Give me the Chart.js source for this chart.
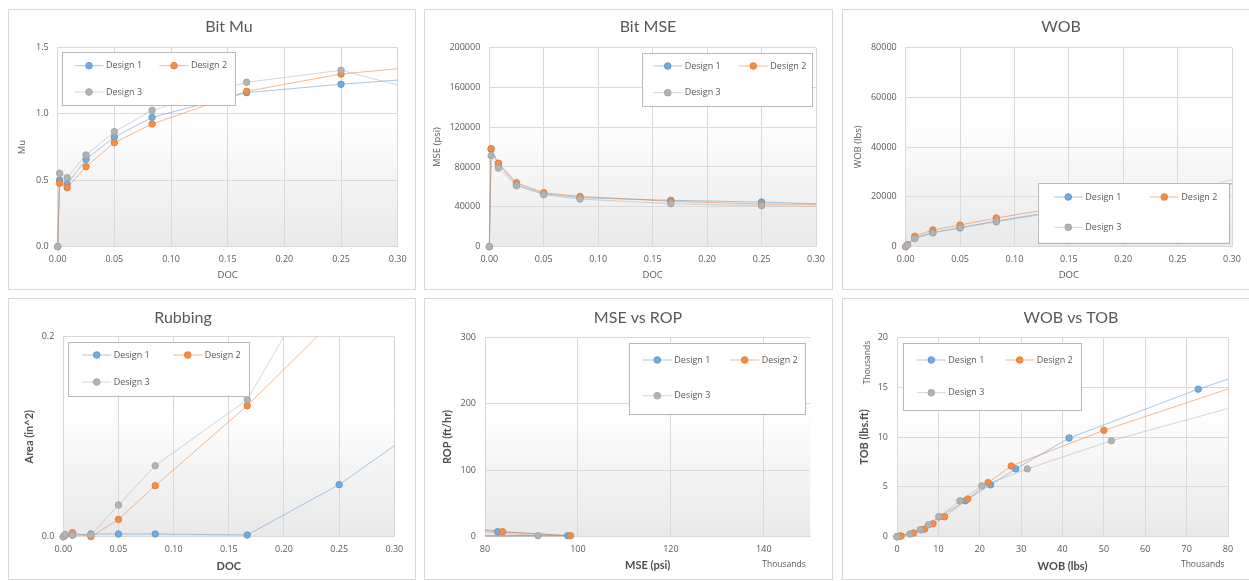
<!DOCTYPE html>
<html><head><meta charset="utf-8">
<script src="https://cdn.jsdelivr.net/npm/chart.js@4/dist/chart.umd.min.js"></script>
<style>
html,body{margin:0;padding:0;background:#fff;width:1249px;height:581px;overflow:hidden;}
.panel{position:absolute;}
.panel canvas{position:absolute;left:0;top:0;}
.frame{position:absolute;left:0;top:0;right:0;bottom:0;border:1px solid #d9d9d9;box-sizing:border-box;pointer-events:none;}
</style></head><body>
<div class="panel" id="p1" style="left:8px;top:9px;width:408px;height:281px"><canvas id="c1" width="408" height="281"></canvas><div class="frame"></div></div>
<div class="panel" id="p2" style="left:424px;top:9px;width:409px;height:281px"><canvas id="c2" width="409" height="281"></canvas><div class="frame"></div></div>
<div class="panel" id="p3" style="left:842px;top:9px;width:409px;height:281px"><canvas id="c3" width="409" height="281"></canvas><div class="frame"></div></div>
<div class="panel" id="p4" style="left:8px;top:298px;width:408px;height:282px"><canvas id="c4" width="408" height="282"></canvas><div class="frame"></div></div>
<div class="panel" id="p5" style="left:424px;top:298px;width:409px;height:282px"><canvas id="c5" width="409" height="282"></canvas><div class="frame"></div></div>
<div class="panel" id="p6" style="left:842px;top:298px;width:409px;height:282px"><canvas id="c6" width="409" height="282"></canvas><div class="frame"></div></div>
<script>
// ---------- DATA ----------
const seriesNames = ['Design 1', 'Design 2', 'Design 3'];
const seriesColors = ['#76abdc', '#f08e50', '#b3b3b3'];
const lineColors = ['rgba(91,155,213,0.55)', 'rgba(237,125,49,0.55)', 'rgba(165,165,165,0.45)'];
const markerBorders = ['#5B9BD5', '#ED7D31', '#A5A5A5'];

// depth of cut (in/rev)
const docValues = [0, 0.00167, 0.00833, 0.025, 0.05, 0.0833, 0.1667, 0.25, 0.3333];
// ROP (ft/hr)
const ropValues = [0, 1.5, 7.5, 22.5, 45, 75, 150, 225, 300];

// Bit Mu
const muDesign1 = [0, 0.50, 0.47, 0.657, 0.825, 0.973, 1.159, 1.222, 1.275];
const muDesign2 = [0, 0.477, 0.444, 0.602, 0.783, 0.923, 1.169, 1.299, 1.366];
const muDesign3 = [0, 0.552, 0.519, 0.69, 0.865, 1.026, 1.237, 1.327, 1.142];

// Bit MSE (psi)
const mseDesign1 = [0, 97800, 82700, 62200, 53200, 49200, 46500, 44800, 41800];
const mseDesign2 = [0, 98400, 83800, 64200, 54200, 50500, 45500, 42800, 42300];
const mseDesign3 = [0, 91400, 78800, 61200, 52200, 47800, 43100, 41100, 40100];

// WOB (lbs)
const wobDesign1 = [0, 700, 3500, 5750, 7600, 10300, 16200, 21500, 27800];
const wobDesign2 = [0, 800, 4150, 6700, 8700, 11500, 17500, 22500, 27000];
const wobDesign3 = [0, 600, 3200, 5500, 7500, 10000, 15800, 21500, 30500];

// Rubbing area (in^2)
const rubDesign1 = [0, 0.0015, 0.0015, 0.0027, 0.0027, 0.0027, 0.0017, 0.052, 0.117];
const rubDesign2 = [0, 0.0015, 0.004, 0, 0.0173, 0.051, 0.131, 0.222, 0.31];
const rubDesign3 = [0, 0.0023, 0.0017, 0.0017, 0.0317, 0.071, 0.137, 0.295, 0.45];

// WOB vs TOB (lbs, lbs.ft)
const wtWobDesign1 = [0, 800, 5800, 10300, 16500, 22600, 28700, 41600, 72800, 95000];
const wtTobDesign1 = [0, 70, 700, 2000, 3600, 5200, 6800, 9900, 14800, 17900];
const wtWobDesign2 = [0, 1000, 4000, 6700, 8700, 11500, 17100, 22000, 27600, 50000, 90000];
const wtTobDesign2 = [0, 70, 370, 770, 1300, 2000, 3780, 5420, 7090, 10670, 16200];
const wtWobDesign3 = [0, 3100, 5600, 7600, 10100, 15200, 20500, 31500, 51800, 90000];
const wtTobDesign3 = [0, 270, 700, 1200, 2000, 3600, 5100, 6800, 9630, 14000];

// axis tick settings
const docTicks = {min: 0, max: 0.30, step: 0.05};
const muTicks = {min: 0, max: 1.5, step: 0.5};
const mseTicks = {min: 0, max: 200000, step: 40000};
const wobTicks = {min: 0, max: 80000, step: 20000};
const rubTicks = {min: 0, max: 0.2, step: 0.2};
const mseRopXTicks = {min: 80000, max: 150000, step: 20000};
const ropTicks = {min: 0, max: 300, step: 100};
const wtXTicks = {min: 0, max: 80000, step: 10000};
const wtYTicks = {min: 0, max: 20000, step: 5000};

// ---------- RENDERING ----------
const TXT = '#595959';
const tickFont = {family: "'Open Sans', sans-serif", size: 9};
const axTitleFont1 = {family: "'Open Sans', sans-serif", size: 9.5};
const axTitleFont2 = {family: "Lato, sans-serif", size: 11, weight: 'bold'};

function pts(xs, ys) { return xs.map((x, i) => ({x: x, y: ys[i]})); }

const decorPlugin = {
  id: 'decor',
  beforeDraw(chart) {
    const a = chart.chartArea, ctx = chart.ctx;
    const g = ctx.createLinearGradient(0, a.top, 0, a.bottom);
    g.addColorStop(0, '#ffffff'); g.addColorStop(0.35, '#ffffff'); g.addColorStop(1, '#e9e9e9');
    ctx.save(); ctx.fillStyle = g; ctx.fillRect(a.left, a.top, a.right - a.left, a.bottom - a.top); ctx.restore();
  },
  afterDatasetsDraw(chart, args, o) {
    const L = o.legend; if (!L) return;
    const ctx = chart.ctx;
    ctx.save();
    const [x1, y1, x2, y2] = L.box;
    ctx.fillStyle = '#ffffff';
    ctx.fillRect(x1, y1, x2 - x1, y2 - y1);
    ctx.strokeStyle = '#b8b8b8'; ctx.lineWidth = 1;
    ctx.strokeRect(Math.round(x1) + 0.5, Math.round(y1) + 0.5, Math.round(x2 - x1), Math.round(y2 - y1));
    chart.data.datasets.forEach((ds, i) => {
      const cx = L.cols[i % 2], cy = L.rows[Math.floor(i / 2)];
      ctx.strokeStyle = ds.borderColor; ctx.lineWidth = 1;
      ctx.beginPath(); ctx.moveTo(cx - 14.5, cy); ctx.lineTo(cx + 14.5, cy); ctx.stroke();
      ctx.beginPath(); ctx.arc(cx, cy, 3.3, 0, Math.PI * 2);
      ctx.fillStyle = ds.backgroundColor; ctx.fill();
      ctx.strokeStyle = ds.pointBorderColor; ctx.stroke();
      ctx.fillStyle = TXT; ctx.font = "9px 'Open Sans', sans-serif";
      ctx.textBaseline = 'middle'; ctx.textAlign = 'left';
      ctx.fillText(ds.label, cx + 17, cy);
    });
    ctx.restore();
  },
  afterDraw(chart, args, o) {
    const ctx = chart.ctx;
    ctx.save();
    if (o.title) {
      ctx.fillStyle = TXT; ctx.font = "16px Lato, sans-serif";
      ctx.textAlign = 'center'; ctx.textBaseline = 'alphabetic';
      ctx.fillText(o.title, o.titleX, o.titleY);
    }
    (o.extras || []).forEach(e => {
      ctx.save();
      ctx.fillStyle = TXT; ctx.font = "8.5px 'Open Sans', sans-serif";
      ctx.textAlign = 'center'; ctx.textBaseline = 'middle';
      ctx.translate(e.x, e.y);
      if (e.rot) ctx.rotate(-Math.PI / 2);
      ctx.fillText(e.text, 0, 0);
      ctx.restore();
    });
    ctx.restore();
  }
};
Chart.register(decorPlugin);

function makeDatasets(seriesX, seriesY, clip) {
  return seriesNames.map((name, i) => ({
    label: name,
    data: pts(seriesX[i], seriesY[i]),
    showLine: true,
    borderColor: lineColors[i],
    borderWidth: 1,
    backgroundColor: seriesColors[i],
    pointBackgroundColor: seriesColors[i],
    pointBorderColor: markerBorders[i],
    pointBorderWidth: 1,
    pointRadius: 3.2,
    pointHoverRadius: 3.2,
    tension: 0,
    order: 3 - i,
    clip: clip
  }));
}

function tickList(t) {
  const out = [];
  const n = Math.floor((t.max - t.min) / t.step + 1e-9);
  for (let k = 0; k <= n; k++) out.push({value: +(t.min + k * t.step).toFixed(6)});
  return out;
}

function axis(t, fmt, title, titleFont, titlePad, fitSize, horizontal) {
  return {
    type: 'linear',
    min: t.min, max: t.max,
    afterBuildTicks: (s) => { s.ticks = tickList(t); },
    ticks: {stepSize: t.step, callback: fmt, color: TXT, font: tickFont, padding: horizontal ? 7 : 9, maxRotation: 0, autoSkip: false},
    grid: {color: '#d9d9d9', drawTicks: false, lineWidth: 1},
    border: {color: '#d9d9d9'},
    title: {display: true, text: title, color: titleFont === axTitleFont2 ? '#4d4d4d' : TXT, font: titleFont, padding: horizontal ? {top: 0, bottom: titlePad} : {top: titlePad, bottom: 0}},
    afterFit: (s) => { if (horizontal) s.height = fitSize; else s.width = fitSize; }
  };
}

function makeChart(id, spec) {
  new Chart(document.getElementById(id), {
    type: 'scatter',
    data: {datasets: spec.datasets},
    options: {
      responsive: false, animation: false, devicePixelRatio: 1,
      layout: {padding: {top: spec.padTop, right: spec.padRight, left: 0, bottom: 0}},
      plugins: {
        legend: {display: false}, tooltip: {enabled: false}, title: {display: false},
        decor: {title: spec.title, titleX: spec.titleX, titleY: spec.titleY, legend: spec.legend, extras: spec.extras || []}
      },
      scales: {x: spec.x, y: spec.y}
    }
  });
}

const f2 = v => Number(v).toFixed(2);
const f1 = v => Number(v).toFixed(1);
const fInt = v => String(Math.round(v));
const fK = v => String(Math.round(v / 1000));
const docX = [docValues, docValues, docValues];
const clipA = {left: 5, bottom: 5, top: 0, right: 0};

makeChart('c1', {
  datasets: makeDatasets(docX, [muDesign1, muDesign2, muDesign3], clipA),
  title: 'Bit Mu', titleX: 221, titleY: 23.3, padTop: 38.3, padRight: 18.3,
  legend: {box: [54.3, 43.3, 227.3, 96.3], cols: [81, 166], rows: [56.7, 83]},
  x: axis(docTicks, f2, 'DOC', axTitleFont1, 9.0, 43.3, true),
  y: axis(muTicks, f1, 'Mu', axTitleFont1, 9.0, 49.7, false)
});
makeChart('c2', {
  datasets: makeDatasets(docX, [mseDesign1, mseDesign2, mseDesign3], clipA),
  title: 'Bit MSE', titleX: 224, titleY: 23.3, padTop: 38.3, padRight: 17,
  legend: {box: [217.7, 44.3, 387.7, 97.3], cols: [243.7, 329.3], rows: [57, 83.7]},
  x: axis(docTicks, f2, 'DOC', axTitleFont1, 9.3, 43.3, true),
  y: axis(mseTicks, fInt, 'MSE (psi)', axTitleFont1, 7.3, 65.3, false)
});
makeChart('c3', {
  datasets: makeDatasets(docX, [wobDesign1, wobDesign2, wobDesign3], clipA),
  title: 'WOB', titleX: 219, titleY: 23.3, padTop: 38.3, padRight: 19,
  legend: {box: [195.7, 173.7, 386.7, 233.3], cols: [226.3, 322.3], rows: [188, 218.3]},
  x: axis(docTicks, f2, 'DOC', axTitleFont1, 9.0, 43.3, true),
  y: axis(wobTicks, fInt, 'WOB (lbs)', axTitleFont1, 11, 63.7, false)
});
makeChart('c4', {
  datasets: makeDatasets(docX, [rubDesign1, rubDesign2, rubDesign3], clipA),
  title: 'Rubbing', titleX: 175, titleY: 25.3, padTop: 38.7, padRight: 21.7,
  legend: {box: [60.3, 43.7, 241.3, 97.3], cols: [88.7, 179.7], rows: [57, 84]},
  x: axis(docTicks, f2, 'DOC', axTitleFont2, 6.7, 43.3, true),
  y: axis(rubTicks, f1, 'Area (in^2)', axTitleFont2, 14.7, 55.3, false)
});
makeChart('c5', {
  datasets: makeDatasets([mseDesign1, mseDesign2, mseDesign3], [ropValues, ropValues, ropValues], {left: 0, bottom: 5, top: 0, right: 0}),
  title: 'MSE vs ROP', titleX: 214, titleY: 25.3, padTop: 39.3, padRight: 22.7,
  legend: {box: [205.3, 44.7, 381.3, 115.3], cols: [233.3, 320.7], rows: [62, 97.7]},
  extras: [{text: 'Thousands', x: 360, y: 267}],
  x: axis(mseRopXTicks, fK, 'MSE (psi)', axTitleFont2, 7.7, 43.3, true),
  y: axis(ropTicks, fInt, 'ROP (ft/hr)', axTitleFont2, 17.1, 61, false)
});
makeChart('c6', {
  datasets: makeDatasets([wtWobDesign1, wtWobDesign2, wtWobDesign3], [wtTobDesign1, wtTobDesign2, wtTobDesign3], clipA),
  title: 'WOB vs TOB', titleX: 229, titleY: 25.3, padTop: 39.3, padRight: 23,
  legend: {box: [61, 44.7, 239.3, 112], cols: [89.3, 177.7], rows: [62, 94.7]},
  extras: [{text: 'Thousands', x: 360.7, y: 267}, {text: 'Thousands', x: 25.7, y: 64.5, rot: true}],
  x: axis(wtXTicks, fK, 'WOB (lbs)', axTitleFont2, 6.7, 43.3, true),
  y: axis(wtYTicks, fK, 'TOB (lbs.ft)', axTitleFont2, 15.7, 55, false)
});
</script>
</body></html>
